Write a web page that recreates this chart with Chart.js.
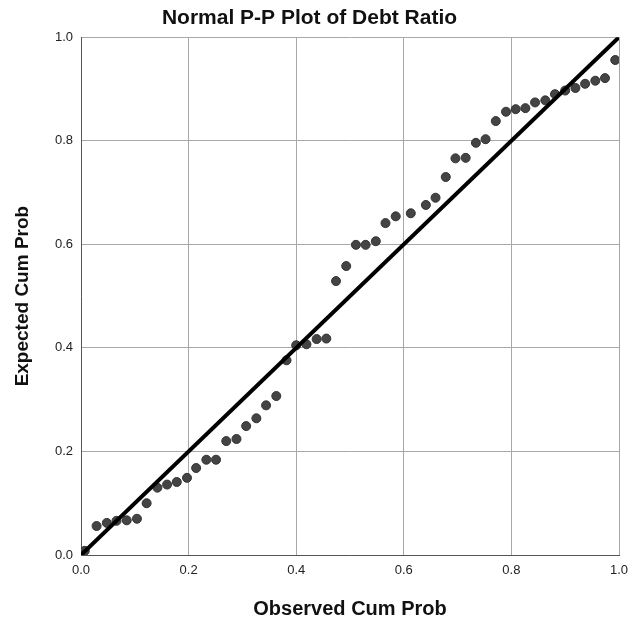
<!DOCTYPE html>
<html>
<head>
<meta charset="utf-8">
<script src="https://cdn.jsdelivr.net/npm/chart.js@4/dist/chart.umd.min.js"></script>
<style>
  html, body { margin: 0; padding: 0; background: #fff; }
  #wrap { width: 631px; height: 624px; }
</style>
</head>
<body>
<div id="wrap"><canvas id="ppChart" width="631" height="624"></canvas></div>
<script>
// Observed vs expected cumulative probabilities
const observedCum = [
    0.007, 0.029, 0.048, 0.066, 0.085, 0.104, 0.122, 0.142, 0.160, 0.178,
    0.197, 0.214, 0.233, 0.251, 0.270, 0.289, 0.307, 0.326, 0.344, 0.363,
    0.382, 0.400, 0.419, 0.438, 0.456, 0.474, 0.493, 0.511, 0.529, 0.548,
    0.566, 0.585, 0.613, 0.641, 0.659, 0.678, 0.696, 0.715, 0.734, 0.752,
    0.771, 0.790, 0.808, 0.826, 0.844, 0.863, 0.881, 0.900, 0.919, 0.937,
    0.956, 0.974, 0.993
];
const expectedCum = [
    0.008, 0.056, 0.062, 0.066, 0.067, 0.070, 0.100, 0.130, 0.136, 0.141,
    0.149, 0.168, 0.184, 0.184, 0.220, 0.224, 0.249, 0.264, 0.289, 0.307,
    0.376, 0.405, 0.407, 0.417, 0.418, 0.529, 0.558, 0.599, 0.599, 0.606,
    0.641, 0.654, 0.660, 0.676, 0.690, 0.730, 0.766, 0.767, 0.796, 0.803,
    0.838, 0.856, 0.861, 0.863, 0.874, 0.878, 0.890, 0.897, 0.902, 0.910,
    0.916, 0.921, 0.956
];
// reference diagonal
const refLineX = [0, 1];
const refLineY = [0, 1];

const fontFamily = "'Liberation Sans', Arial, sans-serif";

const points = observedCum.map((x, i) => ({ x: x, y: expectedCum[i] }));
const diagonal = refLineX.map((x, i) => ({ x: x, y: refLineY[i] }));

const ctx = document.getElementById('ppChart').getContext('2d');
new Chart(ctx, {
    type: 'scatter',
    data: {
        datasets: [
            {
                type: 'line',
                data: diagonal,
                borderColor: '#000',
                borderWidth: 4,
                pointRadius: 0,
                fill: false,
                order: 0
            },
            {
                data: points,
                backgroundColor: '#444',
                borderColor: '#333',
                borderWidth: 1,
                pointRadius: 4.5,
                order: 1
            }
        ]
    },
    options: {
        responsive: false,
        animation: false,
        layout: { padding: { top: 0, right: 12, bottom: 0, left: 0 } },
        plugins: {
            legend: { display: false },
            tooltip: { enabled: false },
            title: {
                display: true,
                text: 'Normal P-P Plot of Debt Ratio',
                color: '#111',
                font: { family: fontFamily, size: 21, weight: 'bold' },
                padding: { top: 6, bottom: 6 }
            }
        },
        scales: {
            x: {
                type: 'linear',
                min: 0,
                max: 1,
                afterFit: s => {
                    s.height = 69;
                    s.paddingLeft = 0;
                    s.paddingRight = 0;
                },
                ticks: {
                    stepSize: 0.2,
                    color: '#222',
                    padding: 8,
                    font: { family: fontFamily, size: 13 },
                    callback: v => v.toFixed(1)
                },
                grid: { color: '#a8a8a8', drawTicks: false },
                border: { color: '#555' },
                title: {
                    display: true,
                    text: 'Observed Cum Prob',
                    color: '#111',
                    font: { family: fontFamily, size: 20, weight: 'bold' },
                    padding: { top: 0, bottom: 3 }
                }
            },
            y: {
                type: 'linear',
                min: 0,
                max: 1,
                afterFit: s => {
                    s.width = 81;
                    s.paddingTop = 0;
                    s.paddingBottom = 0;
                },
                ticks: {
                    stepSize: 0.2,
                    color: '#222',
                    padding: 8,
                    font: { family: fontFamily, size: 13 },
                    callback: v => v.toFixed(1)
                },
                grid: { color: '#a8a8a8', drawTicks: false },
                border: { color: '#555' },
                title: {
                    display: true,
                    text: 'Expected Cum Prob',
                    color: '#111',
                    font: { family: fontFamily, size: 19, weight: 'bold' },
                    padding: { top: 11, bottom: 0 }
                }
            }
        }
    }
});
</script>
</body>
</html>
